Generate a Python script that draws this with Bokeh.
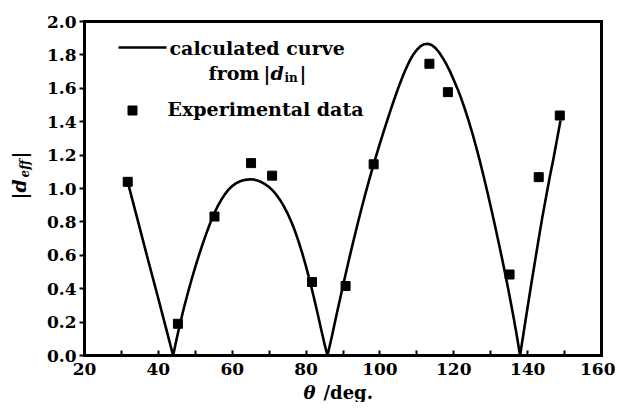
import math
from bokeh.plotting import figure
from bokeh.models import Range1d, Label, FixedTicker, CustomJSTickFormatter, LinearAxis
from bokeh.embed import file_html
from bokeh.resources import INLINE

# ---- data ----
exp_theta = [31.7, 45.3, 55.2, 65.1, 70.8, 81.6, 90.7, 98.3, 113.4, 118.4, 135.1, 143.0, 148.7]
exp_deff = [1.04, 0.19, 0.832, 1.152, 1.077, 0.44, 0.416, 1.145, 1.747, 1.577, 0.485, 1.068, 1.437]

calc_theta = [31.7, 34, 37, 40, 42, 44.0,
              45, 46, 47, 48, 49, 50, 51, 52, 53, 54, 55, 56, 57, 58, 59, 60, 61, 62, 63, 64, 65,
              66, 67, 68, 69, 70, 71, 72, 73, 74, 75, 76, 77, 78, 79, 80, 81, 82, 83, 84, 85, 85.8,
              87, 88, 89, 90, 91, 92, 93, 94, 95, 96, 97, 98, 99, 100, 101, 102, 103, 104, 105,
              106, 107, 108, 109, 110, 111, 112, 113, 114, 115, 116, 117, 118, 119, 120, 121,
              122, 123, 124, 125, 126, 127, 128, 129, 130, 131, 132, 133, 134, 135, 136, 137,
              137.95, 139, 140, 141, 142, 143, 144, 145, 146, 147, 148, 148.9]
calc_deff = [1.04, 0.845, 0.59, 0.34, 0.17, 0.0,
             0.105, 0.202, 0.292, 0.376, 0.455, 0.530, 0.601, 0.668, 0.731, 0.790, 0.845, 0.891,
             0.931, 0.965, 0.993, 1.015, 1.031, 1.042, 1.049, 1.053, 1.055,
             1.053, 1.046, 1.037, 1.024, 1.008, 0.987, 0.961, 0.930, 0.893, 0.850, 0.801, 0.745,
             0.681, 0.610, 0.532, 0.448, 0.358, 0.263, 0.165, 0.068, 0.0,
             0.115, 0.218, 0.319, 0.418, 0.515, 0.610, 0.702, 0.792, 0.879, 0.963, 1.044, 1.122,
             1.197, 1.270, 1.341, 1.410, 1.477, 1.542, 1.604, 1.662, 1.715, 1.762, 1.801, 1.831,
             1.852, 1.864, 1.867, 1.859, 1.842, 1.816, 1.782, 1.744, 1.700, 1.650, 1.598, 1.540,
             1.476, 1.407, 1.333, 1.254, 1.170, 1.081, 0.988, 0.892, 0.793, 0.692, 0.588, 0.481,
             0.369, 0.251, 0.127,
             0.0, 0.15, 0.29, 0.43, 0.565, 0.70, 0.83, 0.95, 1.07, 1.18, 1.30, 1.407]

x_bounds = (20, 160)
y_bounds = (0.0, 2.0)
x_major_ticks = [20, 40, 60, 80, 100, 120, 140, 160]
x_minor_ticks = [30, 50, 70, 90, 110, 130, 150]
y_ticks = [0.0, 0.2, 0.4, 0.6, 0.8, 1.0, 1.2, 1.4, 1.6, 1.8, 2.0]

legend_line_text = "calculated curve"
legend_marker_text = "Experimental data"
x_title = "/deg."

FONT = "DejaVu Serif"

# ---- layout: plot box in canvas pixels ----
W, H = 615, 402
BOX_L, BOX_R, BOX_T, BOX_B = 84, 601, 21, 355
sx = (BOX_R - BOX_L) / (x_bounds[1] - x_bounds[0])
sy = (BOX_B - BOX_T) / (y_bounds[1] - y_bounds[0])


def X(px):
    return x_bounds[0] + (px - BOX_L) / sx


def Y(py):
    return y_bounds[0] + (BOX_B - py) / sy


p = figure(width=W, height=H, output_backend="svg", toolbar_location=None,
           x_range=Range1d(X(0), X(W)), y_range=Range1d(Y(H), Y(0)),
           x_axis_type=None, y_axis_type=None,
           min_border=0, min_border_left=0, min_border_right=0,
           min_border_top=0, min_border_bottom=0)
p.background_fill_color = "white"
p.border_fill_color = "white"
p.outline_line_color = None

# bottom axis
xa = LinearAxis(fixed_location=y_bounds[0], bounds=x_bounds,
                ticker=FixedTicker(ticks=x_major_ticks, minor_ticks=x_minor_ticks))
xa.major_tick_in = 5
xa.major_tick_out = 0
xa.minor_tick_in = 5
xa.minor_tick_out = 0
xa.major_tick_line_width = 2
xa.minor_tick_line_width = 2
xa.axis_line_width = 3
xa.axis_line_cap = "square"
xa.major_label_standoff = 7
xa.major_label_text_font = FONT
xa.major_label_text_font_style = "bold"
xa.major_label_text_font_size = "17px"
xa.major_label_text_color = "black"
p.add_layout(xa, "below")

# left axis
ya = LinearAxis(fixed_location=x_bounds[0], bounds=y_bounds,
                ticker=FixedTicker(ticks=y_ticks, minor_ticks=[]))
ya.major_tick_in = 0
ya.major_tick_out = 5
ya.minor_tick_in = 0
ya.minor_tick_out = 0
ya.major_tick_line_width = 2
ya.axis_line_width = 3
ya.axis_line_cap = "square"
ya.major_label_standoff = 3
ya.major_label_text_font = FONT
ya.major_label_text_font_style = "bold"
ya.major_label_text_font_size = "17px"
ya.major_label_text_color = "black"
ya.formatter = CustomJSTickFormatter(code="return tick.toFixed(1);")
p.add_layout(ya, "left")

# top and right frame lines (axes without ticks)
ta = LinearAxis(fixed_location=y_bounds[1], bounds=x_bounds, ticker=FixedTicker(ticks=[], minor_ticks=[]))
ra = LinearAxis(fixed_location=x_bounds[1], bounds=y_bounds, ticker=FixedTicker(ticks=[], minor_ticks=[]))
for ax in (ta, ra):
    ax.axis_line_width = 3
    ax.axis_line_cap = "square"
    ax.major_tick_in = 0
    ax.major_tick_out = 0
    ax.minor_tick_in = 0
    ax.minor_tick_out = 0
    ax.major_label_text_font_size = "0px"
p.add_layout(ta, "above")
p.add_layout(ra, "right")

# data
p.line(calc_theta, calc_deff, line_color="black", line_width=2.6, line_join="round")
p.scatter(exp_theta, exp_deff, marker="square", size=9, fill_color="black", line_color="black")

# legend
LF = "19px"
def txt(px, py, s, size=LF, style="bold"):
    p.add_layout(Label(x=X(px), y=Y(py), text=s, text_font=FONT, text_font_style=style,
                       text_font_size=size, text_baseline="middle", text_align="left",
                       text_color="black"))

p.line([X(118), X(166)], [Y(47), Y(47)], line_color="black", line_width=2.6)
txt(169, 47, legend_line_text)
txt(208, 72, "from")
txt(263, 72, "|")
txt(270, 72, "d", style="bold italic")
txt(284, 77, "in", size="12px")
txt(299, 72, "|")
p.scatter([X(132)], [Y(110)], marker="square", size=9, fill_color="black", line_color="black")
txt(167, 108, legend_marker_text)

# x title
txt(303, 392, "θ", size="18px", style="bold italic")
txt(323, 392, x_title, size="18px")

# y title (rotated, reading upward)
ang = math.pi / 2
def rtxt(px, py, s, size="19px", style="bold italic"):
    p.add_layout(Label(x=X(px), y=Y(py), text=s, text_font=FONT, text_font_style=style,
                       text_font_size=size, text_baseline="middle", text_align="left",
                       text_color="black", angle=ang))

rtxt(18, 199, "|", style="bold")
rtxt(18, 192, "d")
rtxt(24, 177, "eff", size="12px")
rtxt(18, 158, "|", style="bold")

open("out.html", "w").write(file_html(p, INLINE))
